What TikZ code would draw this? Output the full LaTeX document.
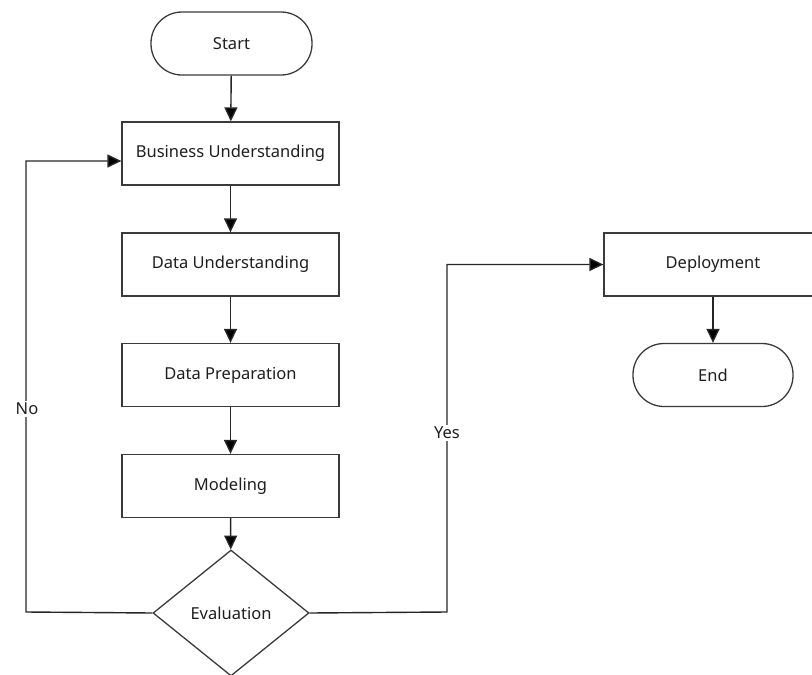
\documentclass[tikz,border=0pt]{standalone}
\usepackage{fontspec}
\setmainfont{Noto Sans}
\usetikzlibrary{shapes.geometric,arrows.meta,calc}
\definecolor{linec}{HTML}{3A3A3A}
\definecolor{textc}{HTML}{1E1E1E}
\tikzset{
  box/.style={draw=linec, line width=1.3pt, rectangle, minimum width=217pt, minimum height=63pt, inner sep=0pt, text=textc, font=\fontsize{16.5}{19}\selectfont},
  term/.style={draw=linec, line width=1.3pt, rectangle, rounded corners=31pt, minimum width=161pt, minimum height=63pt, inner sep=0pt, text=textc, font=\fontsize{16.5}{19}\selectfont},
  decis/.style={draw=linec, line width=1.3pt, diamond, minimum width=156pt, minimum height=126pt, inner sep=0pt, text=textc, font=\fontsize{16.5}{19}\selectfont},
  conn/.style={draw=black!85, line width=1.4pt, -{Triangle[length=14pt,width=13pt,fill=black]}},
  lbl/.style={fill=white, text=textc, inner sep=2pt, font=\fontsize{16.5}{19}\selectfont}
}
\begin{document}
\begin{tikzpicture}[x=1pt,y=-1pt]
\useasboundingbox (0,0) rectangle (812,675);
\clip (0,0) rectangle (812,675);
\node[term] (start) at (231.5,43.5) {Start};
\node[box] (bu) at (230.5,153.5) {Business Understanding};
\node[box] (du) at (230.5,264.5) {Data Understanding};
\node[box] (dp) at (230.5,375) {Data Preparation};
\node[box] (mod) at (230.5,486) {Modeling};
\node[decis] (eval) at (231,613) {Evaluation};
\node[box, minimum width=218pt] (dep) at (713,264.5) {Deployment};
\node[term, minimum width=160pt] (end) at (713,375) {End};
\coordinate (nocorner) at (26,612);
\coordinate (notop) at (26,161);
\coordinate (yescorner) at (447,612);
\coordinate (yestop) at (447,264.5);
\draw[conn] (start) -- (bu);
\draw[conn] (bu) -- (du);
\draw[conn] (du) -- (dp);
\draw[conn] (dp) -- (mod);
\draw[conn] (mod) -- (eval);
\draw[conn] (eval.west) -- (nocorner) -- (notop) -- (bu.west |- notop);
\draw[conn] (eval.east) -- (yescorner) -- (yestop) -- (dep.west);
\draw[conn] (dep) -- (end);
\node[lbl] (nolbl) at (27,409) {No};
\node[lbl] (yeslbl) at (447,433) {Yes};
\end{tikzpicture}
\end{document}
